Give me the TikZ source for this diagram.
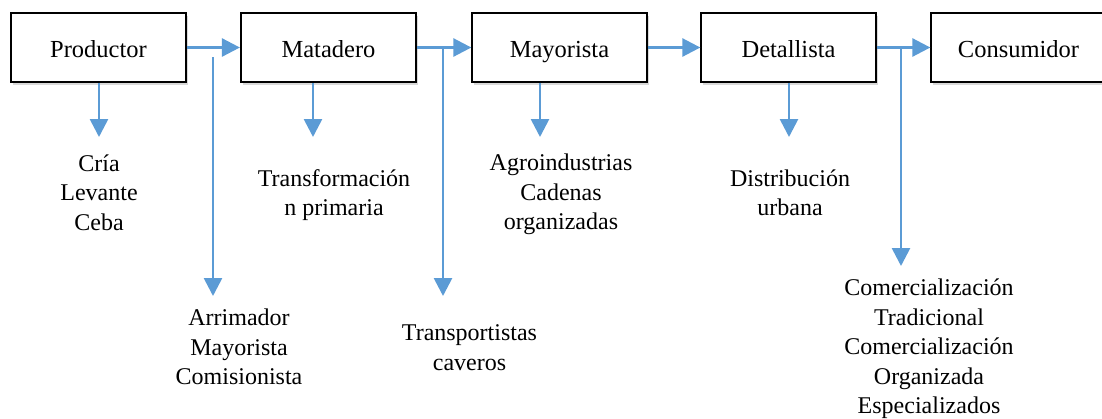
\documentclass[tikz,border=0pt]{standalone}
\usepackage{fontspec}
\setmainfont{Liberation Serif}
\usetikzlibrary{arrows.meta,shadows}
\definecolor{flowblue}{RGB}{91,155,213}
\begin{document}
\begin{tikzpicture}[x=1pt,y=-1pt,
  stage/.style={draw=black,line width=1.3pt,fill=white,minimum width=175pt,minimum height=69pt,inner sep=0pt,
    text height=20pt,text depth=1pt,
    font=\fontsize{24.5}{29.5}\selectfont,
    drop shadow={shadow xshift=2pt,shadow yshift=-2.5pt,opacity=0.3,fill=gray}},
  lbl/.style={align=center,inner sep=0pt,font=\fontsize{24}{29.5}\selectfont},
  flow/.style={draw=flowblue,line width=2.7pt,-{Triangle[length=18pt,width=18pt]}},
]
\useasboundingbox (0,0) rectangle (1102,418);
\clip (0,0) rectangle (1102,418);

% stages
\node[stage] (prod) at (98.5,47.5) {Productor};
\node[stage,line width=2.2pt] (mat) at (328.5,47.5) {Matadero};
\node[stage] (may) at (559.5,47.5) {Mayorista};
\node[stage] (det) at (788.5,47.5) {Detallista};
\node[stage,minimum width=190pt] (con) at (1026,47.5) {\hspace*{-15pt}Consumidor};

% main flow
\draw[flow] (prod.east) -- (mat.west);
\draw[flow] (mat.east) -- (may.west);
\draw[flow] (may.east) -- (det.west);
\draw[flow] (det.east) -- (con.west);

% down arrows
\coordinate (pd) at (99,137);
\coordinate (md) at (313,137);
\coordinate (yd) at (540,137);
\coordinate (dd) at (789,137);
\draw[flow] (prod.south -| pd) -- (pd);
\draw[flow] (mat.south -| md) -- (md);
\draw[flow] (may.south -| yd) -- (yd);
\draw[flow] (det.south -| dd) -- (dd);

% branches
\coordinate (b1s) at (213,57);
\coordinate (b1e) at (213,296);
\coordinate (b2e) at (443,296);
\coordinate (b3e) at (901,266);
\draw[flow] (b1s) -- (b1e);
\draw[flow] (mat.east -| b2e) -- (b2e);
\draw[flow] (det.east -| b3e) -- (b3e);

% labels
\node[lbl] (l1) at (99,192.5) {Cría\\Levante\\Ceba};
\node[lbl] (l2) at (334,195) {Transformación\\n primaria};
\node[lbl] (l3) at (239,347) {Arrimador\\Mayorista\\Comisionista};
\node[lbl] (l4) at (469.5,347.5) {Transportistas\\caveros};
\node[lbl] (l5) at (561,194.5) {Agroindustrias\\Cadenas\\organizadas};
\node[lbl] (l6) at (790,193) {Distribución\\urbana};
\node[lbl] (l7) at (929,349) {Comercialización\\Tradicional\\Comercialización\\Organizada\\Especializados};
\end{tikzpicture}
\end{document}
